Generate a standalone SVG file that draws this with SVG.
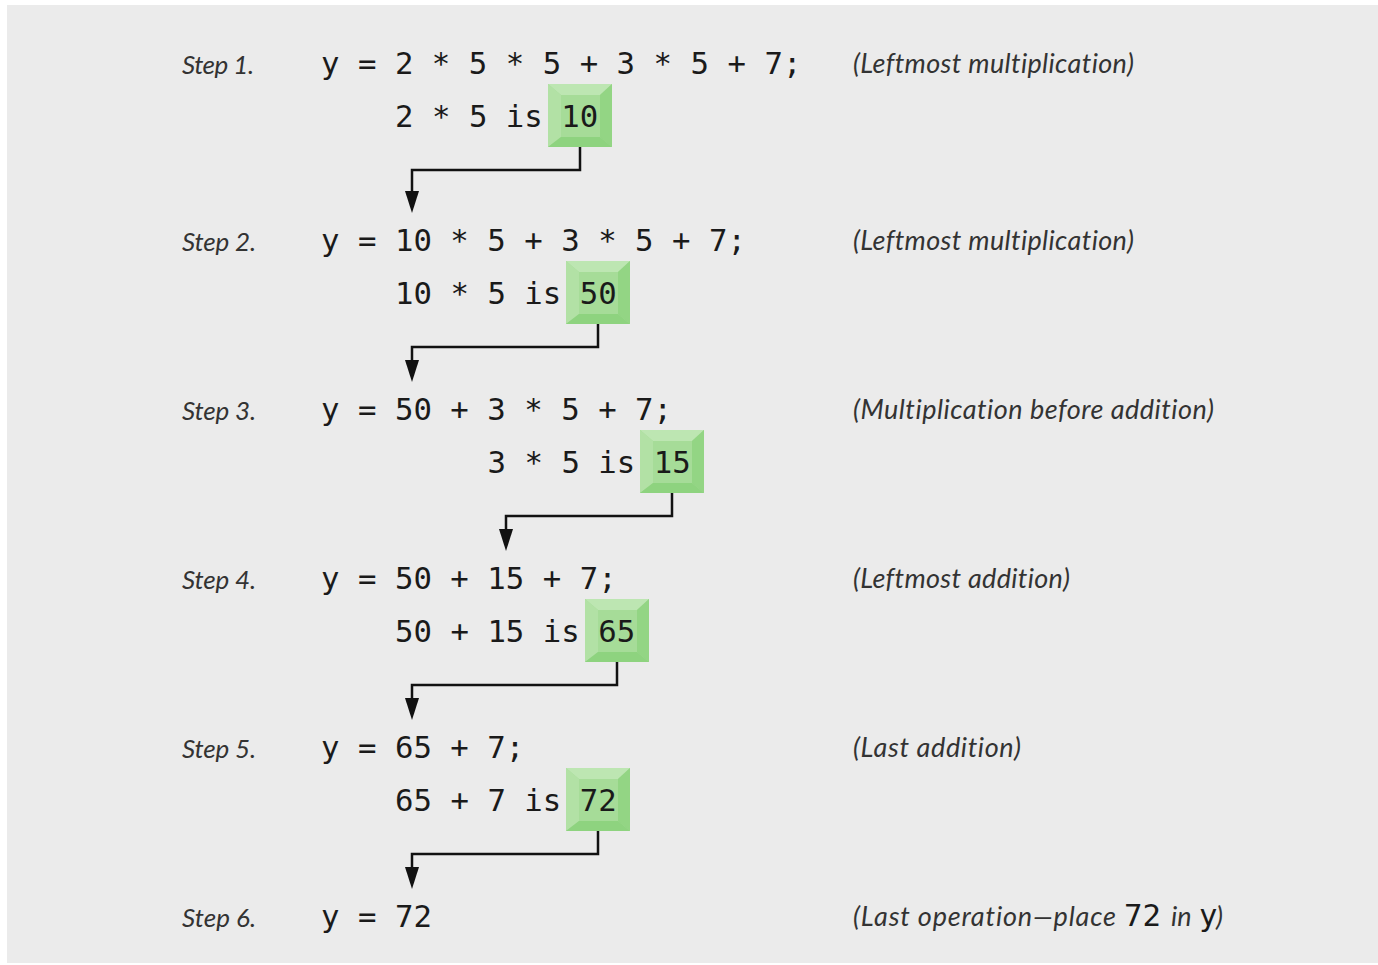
<svg xmlns="http://www.w3.org/2000/svg" width="1378" height="965" viewBox="0 0 1378 965">
<style>
.code{font-family:"DejaVu Sans Mono","Liberation Mono",monospace;font-size:30.7px;fill:#1a1a1a}
.lbl{font-family:Lato,"Liberation Sans",sans-serif;font-style:italic;font-size:26px;fill:#333;font-variant-ligatures:none}
.cmt{font-family:Lato,"Liberation Sans",sans-serif;font-style:italic;font-size:27px;fill:#333;font-variant-ligatures:none}
.wire{fill:none;stroke:#111;stroke-width:2.5}
.bt{fill:#bde6b2}.bl{fill:#b2e1a5}.br{fill:#93d584}.bb{fill:#8ed37f}.bf{fill:#a6dc98}
</style>
<defs>
<marker id="arr" markerUnits="userSpaceOnUse" viewBox="0 0 22 14" markerWidth="22" markerHeight="14" refX="2" refY="7" orient="auto">
<path d="M0,0 L22,7 L0,14 z" fill="#111"/>
</marker>
<g id="box">
<rect x="0" y="0" width="64" height="63" class="bf"/>
<polygon points="0,0 64,0 52,11 13,11" class="bt"/>
<polygon points="0,0 13,11 13,53 0,63" class="bl"/>
<polygon points="64,0 64,63 52,53 52,11" class="br"/>
<polygon points="0,63 13,53 52,53 64,63" class="bb"/>
</g>
</defs>
<rect x="7" y="5" width="1371" height="958" fill="#ebebeb"/>

<g id="step1">
<text class="lbl" x="182" y="74" textLength="72">Step 1.</text>
<text class="code" x="321" y="74">y = 2 * 5 * 5 + 3 * 5 + 7;</text>
<text class="cmt" x="853" y="73" textLength="281">(Leftmost multiplication)</text>
<use href="#box" x="548" y="84"/>
<text class="code" x="395" y="127">2 * 5 is 10</text>
</g>

<g id="step2">
<text class="lbl" x="182" y="251" textLength="74">Step 2.</text>
<text class="code" x="321" y="251">y = 10 * 5 + 3 * 5 + 7;</text>
<text class="cmt" x="853" y="250" textLength="281">(Leftmost multiplication)</text>
<use href="#box" x="566" y="261"/>
<text class="code" x="395" y="304">10 * 5 is 50</text>
</g>

<g id="step3">
<text class="lbl" x="182" y="420" textLength="74">Step 3.</text>
<text class="code" x="321" y="420">y = 50 + 3 * 5 + 7;</text>
<text class="cmt" x="853" y="419" textLength="361">(Multiplication before addition)</text>
<use href="#box" x="640" y="430"/>
<text class="code" x="487.5" y="473">3 * 5 is 15</text>
</g>

<g id="step4">
<text class="lbl" x="182" y="589" textLength="74">Step 4.</text>
<text class="code" x="321" y="589">y = 50 + 15 + 7;</text>
<text class="cmt" x="853" y="588" textLength="217">(Leftmost addition)</text>
<use href="#box" x="585" y="599"/>
<text class="code" x="395" y="642">50 + 15 is 65</text>
</g>

<g id="step5">
<text class="lbl" x="182" y="758" textLength="74">Step 5.</text>
<text class="code" x="321" y="758">y = 65 + 7;</text>
<text class="cmt" x="853" y="757" textLength="168">(Last addition)</text>
<use href="#box" x="566" y="768"/>
<text class="code" x="395" y="811">65 + 7 is 72</text>
</g>

<g id="step6">
<text class="lbl" x="182" y="927" textLength="74">Step 6.</text>
<text class="code" x="321" y="927">y = 72</text>
<text class="cmt" x="853" y="926" textLength="263">(Last operation—place</text>
<text class="code" x="1124" y="926">72</text>
<text class="cmt" x="1171" y="926">in</text>
<text class="code" x="1199" y="926">y</text>
<text class="cmt" x="1216" y="926">)</text>
</g>

<g id="connectors">
<path class="wire" d="M580,147 V170 H412 V193" marker-end="url(#arr)"/>
<path class="wire" d="M598,324 V347 H412 V362" marker-end="url(#arr)"/>
<path class="wire" d="M672,493 V516 H506 V531" marker-end="url(#arr)"/>
<path class="wire" d="M617,662 V685 H412 V700" marker-end="url(#arr)"/>
<path class="wire" d="M598,831 V854 H412 V869" marker-end="url(#arr)"/>
</g>
</svg>
